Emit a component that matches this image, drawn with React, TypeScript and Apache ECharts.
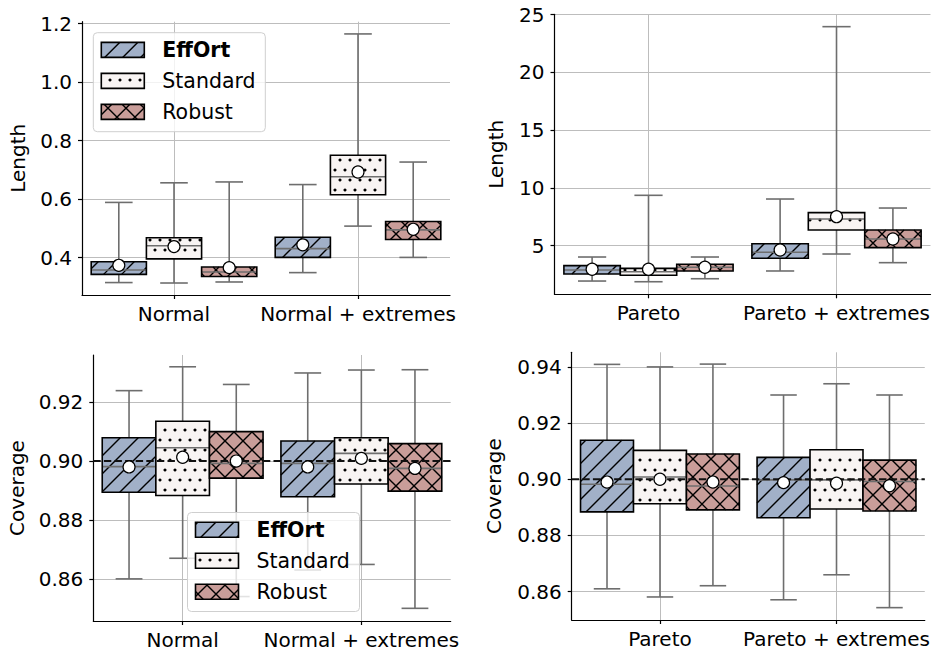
import React, { useEffect, useRef } from 'react';
import * as echarts from 'echarts';

// ---------------- data ----------------
const HUES = ['EffOrt', 'Standard', 'Robust'];
const HUE_FILLS = ['#a1b0c8', '#f8f4f3', '#c99d99'];
const HUE_HATCH = ['/', '.', 'x'];

const normalCats = ['Normal', 'Normal + extremes'];
const paretoCats = ['Pareto', 'Pareto + extremes'];

// each row: [lower whisker, q1, median, q3, upper whisker], one row per category
const lenNormalEffOrt = [[0.315, 0.343, 0.358, 0.386, 0.589], [0.349, 0.401, 0.431, 0.470, 0.650]];
const lenNormalStandard = [[0.3135, 0.396, 0.441, 0.468, 0.656], [0.508, 0.615, 0.677, 0.750, 1.165]];
const lenNormalRobust = [[0.317, 0.336, 0.351, 0.368, 0.659], [0.401, 0.462, 0.495, 0.524, 0.727]];
const lenNormalMeans = [[0.374, 0.444], [0.438, 0.693], [0.366, 0.497]];

const lenParetoEffOrt = [[1.94, 2.55, 2.90, 3.27, 4.02], [2.81, 3.91, 4.43, 5.17, 9.04]];
const lenParetoStandard = [[1.88, 2.44, 2.75, 3.04, 9.36], [4.28, 6.36, 7.31, 7.86, 23.96]];
const lenParetoRobust = [[2.14, 2.81, 3.13, 3.39, 4.02], [3.53, 4.83, 5.58, 6.36, 8.26]];
const lenParetoMeans = [[2.96, 4.63], [2.96, 7.51], [3.13, 5.58]];

const covNormalEffOrt = [[0.860, 0.8894, 0.8981, 0.9079, 0.9239], [0.863, 0.8879, 0.8992, 0.9068, 0.9299]];
const covNormalStandard = [[0.867, 0.8883, 0.9045, 0.9135, 0.932], [0.8649, 0.8922, 0.9026, 0.9079, 0.9309]];
const covNormalRobust = [[0.854, 0.8942, 0.8992, 0.910, 0.926], [0.850, 0.8898, 0.8975, 0.9059, 0.931]];
const covNormalMeans = [[0.898, 0.898], [0.9013, 0.9009], [0.900, 0.8975]];

const covParetoEffOrt = [[0.861, 0.8884, 0.8982, 0.9139, 0.9409], [0.8571, 0.8863, 0.8998, 0.9078, 0.930]];
const covParetoStandard = [[0.8581, 0.8913, 0.9008, 0.9103, 0.940], [0.866, 0.8894, 0.8998, 0.9105, 0.934]];
const covParetoRobust = [[0.8621, 0.8891, 0.8976, 0.909, 0.941], [0.8543, 0.8887, 0.8992, 0.9068, 0.930]];
const covParetoMeans = [[0.899, 0.8988], [0.900, 0.8986], [0.899, 0.8977]];

const lenNormalTicks = [0.4, 0.6, 0.8, 1.0, 1.2];
const lenParetoTicks = [5, 10, 15, 20, 25];
const covNormalTicks = [0.86, 0.88, 0.90, 0.92];
const covParetoTicks = [0.86, 0.88, 0.90, 0.92, 0.94];

const COVERAGE_TARGET = 0.9;

// ---------------- layout / style ----------------
const FONT = 'DejaVu Sans';
const FS = 20;
const BOX_STEP = 0.3;
const BOX_W = 0.3;
const LINE_SPACING = 18;
const DOT_SPACING = 10;
const WHISKER = '#6e6e6e';
const GRID_COLOR = '#bdbdbd';

const panels = [
  {
    cats: normalCats, stats: [lenNormalEffOrt, lenNormalStandard, lenNormalRobust], means: lenNormalMeans,
    ticks: lenNormalTicks, dec: 1, min: 0.2725, max: 1.2068, name: 'Length', nameGap: 54,
    grid: { left: 82, top: 21.7, width: 368, height: 273.3 }, target: false,
  },
  {
    cats: paretoCats, stats: [lenParetoEffOrt, lenParetoStandard, lenParetoRobust], means: lenParetoMeans,
    ticks: lenParetoTicks, dec: 0, min: 0.792, max: 25.03, name: 'Length', nameGap: 48.5,
    grid: { left: 554.5, top: 14.3, width: 376.5, height: 280 }, target: false,
  },
  {
    cats: normalCats, stats: [covNormalEffOrt, covNormalStandard, covNormalRobust], means: covNormalMeans,
    ticks: covNormalTicks, dec: 2, min: 0.8457, max: 0.936, name: 'Coverage', nameGap: 66,
    grid: { left: 93.3, top: 355, width: 357.4, height: 266 }, target: true,
  },
  {
    cats: paretoCats, stats: [covParetoEffOrt, covParetoStandard, covParetoRobust], means: covParetoMeans,
    ticks: covParetoTicks, dec: 2, min: 0.8499, max: 0.9452, name: 'Coverage', nameGap: 67.5,
    grid: { left: 571.7, top: 352.3, width: 360, height: 267.7 }, target: true,
  },
];

function hatchEls(pattern: string, x0: number, y0: number, x1: number, y1: number): any[] {
  const els: any[] = [];
  const s = LINE_SPACING;
  const ls = { stroke: '#000', lineWidth: 1.4 };
  if (pattern === '/' || pattern === 'x') {
    for (let c = Math.ceil((x0 + y0) / s) * s; c <= x1 + y1; c += s) {
      const xa = Math.max(x0, c - y1), xb = Math.min(x1, c - y0);
      if (xb - xa > 0.5) els.push({ type: 'line', shape: { x1: xa, y1: c - xa, x2: xb, y2: c - xb }, style: ls });
    }
  }
  if (pattern === 'x') {
    for (let c = Math.ceil((x0 - y1) / s) * s; c <= x1 - y0; c += s) {
      const xa = Math.max(x0, c + y0), xb = Math.min(x1, c + y1);
      if (xb - xa > 0.5) els.push({ type: 'line', shape: { x1: xa, y1: xa - c, x2: xb, y2: xb - c }, style: ls });
    }
  }
  if (pattern === '.') {
    const d = DOT_SPACING;
    const r = 1.55;
    for (let j = Math.ceil((y0 + r) / d); j * d <= y1 - r; j++) {
      const off = (Math.abs(j) % 2) * d / 2;
      for (let i = Math.ceil((x0 + r - off) / d); i * d + off <= x1 - r; i++) {
        els.push({ type: 'circle', shape: { cx: i * d + off, cy: j * d, r }, style: { fill: '#000' } });
      }
    }
  }
  return els;
}

function buildOption() {
  const grids: any[] = [];
  const xAxes: any[] = [];
  const yAxes: any[] = [];
  const series: any[] = [];

  panels.forEach((p, pi) => {
    grids.push({ ...p.grid, containLabel: false });
    xAxes.push({
      type: 'value', gridIndex: pi, min: -0.5, max: 1.5,
      axisLine: { show: true, onZero: false, lineStyle: { color: '#000', width: 1.2 } },
      axisTick: { show: true, length: 4, customValues: [0, 1], lineStyle: { color: '#000', width: 1.2 } },
      axisLabel: {
        customValues: [0, 1], formatter: (v: number) => p.cats[Math.round(v)] ?? '',
        fontSize: FS, color: '#000', fontFamily: FONT, margin: 9,
      },
      splitLine: { show: true, lineStyle: { color: GRID_COLOR, width: 1 } },
    });
    yAxes.push({
      type: 'value', gridIndex: pi, min: p.min, max: p.max,
      name: p.name, nameLocation: 'middle', nameGap: p.nameGap, nameRotate: 90,
      nameTextStyle: { fontSize: FS, color: '#000', fontFamily: FONT },
      axisLine: { show: true, onZero: false, lineStyle: { color: '#000', width: 1.2 } },
      axisTick: { show: true, length: 4, customValues: p.ticks, lineStyle: { color: '#000', width: 1.2 } },
      axisLabel: {
        customValues: p.ticks, formatter: (v: number) => v.toFixed(p.dec),
        fontSize: FS, color: '#000', fontFamily: FONT, margin: 10,
      },
      splitLine: { show: true, lineStyle: { color: GRID_COLOR, width: 1 } },
    });

    const boxData: any[] = [];
    p.stats.forEach((rows, h) => rows.forEach((r, c) => boxData.push([c, h, ...r])));
    series.push({
      type: 'custom', xAxisIndex: pi, yAxisIndex: pi, z: 2, silent: true,
      encode: { x: 0, y: [2, 3, 4, 5, 6] },
      data: boxData,
      renderItem: (params: any, api: any) => {
        const c = api.value(0), h = api.value(1);
        const xc = c + (h - 1) * BOX_STEP;
        const px = api.coord([xc, api.value(4)])[0];
        const bw = api.size([BOX_W, 0])[0];
        const yLo = api.coord([xc, api.value(2)])[1];
        const yQ1 = api.coord([xc, api.value(3)])[1];
        const yMed = api.coord([xc, api.value(4)])[1];
        const yQ3 = api.coord([xc, api.value(5)])[1];
        const yHi = api.coord([xc, api.value(6)])[1];
        const x0 = px - bw / 2, x1 = px + bw / 2;
        const ws = { stroke: WHISKER, lineWidth: 1.6 };
        const children: any[] = [
          { type: 'line', shape: { x1: px, y1: yQ3, x2: px, y2: yHi }, style: ws },
          { type: 'line', shape: { x1: px, y1: yQ1, x2: px, y2: yLo }, style: ws },
          { type: 'line', shape: { x1: px - bw / 4, y1: yHi, x2: px + bw / 4, y2: yHi }, style: ws },
          { type: 'line', shape: { x1: px - bw / 4, y1: yLo, x2: px + bw / 4, y2: yLo }, style: ws },
          { type: 'rect', shape: { x: x0, y: yQ3, width: bw, height: yQ1 - yQ3 }, style: { fill: HUE_FILLS[h], stroke: 'none' } },
          ...hatchEls(HUE_HATCH[h], x0, yQ3, x1, yQ1),
          { type: 'line', shape: { x1: x0, y1: yMed, x2: x1, y2: yMed }, style: ws },
          { type: 'rect', shape: { x: x0, y: yQ3, width: bw, height: yQ1 - yQ3 }, style: { fill: 'none', stroke: '#000', lineWidth: 1.6 } },
        ];
        return { type: 'group', children };
      },
    });

    if (p.target) {
      series.push({
        type: 'line', xAxisIndex: pi, yAxisIndex: pi, z: 3, silent: true, showSymbol: false, symbol: 'none',
        data: [[-0.5, COVERAGE_TARGET], [1.5, COVERAGE_TARGET]],
        lineStyle: { color: '#111', width: 2, type: [7.4, 3.2] },
      });
    }

    const meanData: any[] = [];
    p.means.forEach((ms, h) => ms.forEach((m, c) => meanData.push([c + (h - 1) * BOX_STEP, m])));
    series.push({
      type: 'scatter', xAxisIndex: pi, yAxisIndex: pi, z: 5, silent: true,
      symbol: 'circle', symbolSize: 12,
      itemStyle: { color: '#fff', borderColor: '#000', borderWidth: 1.2, opacity: 1 },
      data: meanData,
    });
  });

  // legends
  const legendAt = (lx: number, ly: number) => {
    const els: any[] = [];
    els.push({
      type: 'rect', z: 100, shape: { x: lx, y: ly, width: 172, height: 99, r: 4 },
      style: { fill: 'rgba(255,255,255,0.8)', stroke: '#cfcfcf', lineWidth: 1 },
    });
    const rows = [17.2, 48.2, 79.2];
    HUES.forEach((name, h) => {
      const px0 = lx + 8, py0 = ly + rows[h] - 7.5, pw = 43, ph = 15;
      els.push({ type: 'rect', z: 101, shape: { x: px0, y: py0, width: pw, height: ph }, style: { fill: HUE_FILLS[h], stroke: 'none' } });
      hatchEls(HUE_HATCH[h], px0, py0, px0 + pw, py0 + ph).forEach((e) => els.push({ ...e, z: 101 }));
      els.push({ type: 'rect', z: 101, shape: { x: px0, y: py0, width: pw, height: ph }, style: { fill: 'none', stroke: '#000', lineWidth: 1.6 } });
      els.push({
        type: 'text', z: 101,
        style: {
          text: name, x: lx + 69, y: ly + rows[h], fill: '#000', fontFamily: FONT, fontSize: 20.5,
          fontWeight: h === 0 ? 'bold' : 'normal', align: 'left', verticalAlign: 'middle',
        },
      });
    });
    return els;
  };

  return {
    animation: false,
    textStyle: { fontFamily: FONT },
    grid: grids,
    xAxis: xAxes,
    yAxis: yAxes,
    series,
    graphic: [...legendAt(93.3, 32.7), ...legendAt(187.5, 512.5)],
  };
}

export default function App() {
  const ref = useRef<HTMLDivElement>(null);
  useEffect(() => {
    if (!ref.current) return;
    const chart = echarts.init(ref.current, undefined, { renderer: 'svg' });
    chart.setOption(buildOption());
    return () => chart.dispose();
  }, []);
  return <div ref={ref} style={{ position: 'absolute', left: 0, top: 0, width: 933, height: 654, background: '#fff' }} />;
}
